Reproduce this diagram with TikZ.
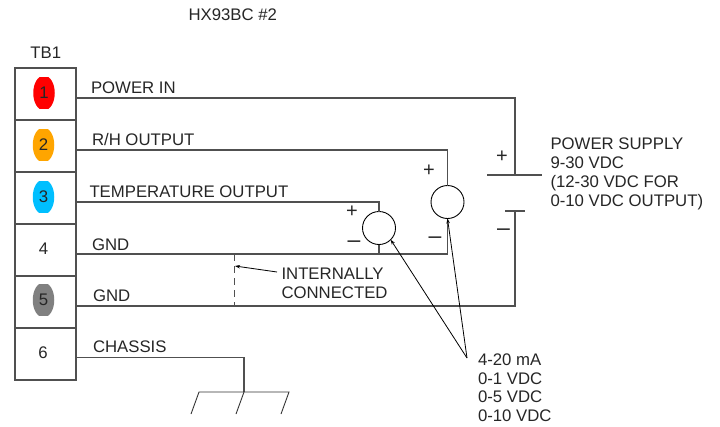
\documentclass[tikz,border=0pt]{standalone}
\usepackage{fontspec}
\setmainfont{Liberation Sans}
\usetikzlibrary{arrows.meta,shapes.geometric}
\definecolor{wirec}{HTML}{505050}
\definecolor{txtc}{HTML}{262626}
\definecolor{ovalorange}{RGB}{255,165,0}
\definecolor{ovalcyan}{RGB}{0,191,255}
\newcommand{\termoval}[3]{%
  \begin{scope}
    \clip (#2-11,#3-15.5) rectangle (#2+11,#3+15.5);
    \fill[#1] (#2,#3) ellipse [x radius=10.75,y radius=17.5];
  \end{scope}}
\tikzset{
  wire/.style={draw=wirec,line width=1.1pt,line join=miter},
  cellbox/.style={draw=wirec,line width=1.1pt,minimum width=61pt,minimum height=52pt,inner sep=0pt,outer sep=0pt},
  oval/.style={inner sep=0pt,outer sep=0pt,font=\fontsize{16.8}{18}\selectfont,text=txtc},
  lab/.style={anchor=base west,inner sep=0pt,outer sep=0pt,text=txtc,font=\fontsize{16.75}{18}\selectfont},
  sign/.style={inner sep=0pt,outer sep=0pt,text=txtc,font=\fontsize{20}{20}\selectfont},
  dashsign/.style={sign,font=\fontsize{23}{23}\selectfont},
  meter/.style={circle,draw=black,line width=0.9pt,minimum size=33pt,inner sep=0pt,outer sep=0pt},
  leader/.style={draw=black,line width=0.8pt,-{Stealth[length=5pt,width=3.5pt]}},
}
\begin{document}
\begin{tikzpicture}[x=1pt,y=-1pt]
\useasboundingbox (0,0) rectangle (720,426);
% terminal block
\node[cellbox] (c1) at (45.5,94) {};
\node[cellbox] (c2) at (45.5,146) {};
\node[cellbox] (c3) at (45.5,198) {};
\node[cellbox] (c4) at (45.5,250) {};
\node[cellbox] (c5) at (45.5,302) {};
\node[cellbox] (c6) at (45.5,354) {};
\termoval{red}{44}{93}
\termoval{ovalorange}{43.5}{145}
\termoval{ovalcyan}{43.5}{197}
\termoval{gray}{43.5}{300}
\node[oval] (n1) at (44,93) {1};
\node[oval] (n2) at (43.5,145) {2};
\node[oval] (n3) at (43.5,197) {3};
\node[oval] (n4) at (43.5,248.5) {4};
\node[oval] (n5) at (43.5,300) {5};
\node[oval] (n6) at (43,352.5) {6};
% meters
\node[meter] (mA) at (379,228) {};
\node[meter] (mB) at (447.5,202) {};
% coordinates
\coordinate (w1) at (76,98);
\coordinate (w2) at (76,150);
\coordinate (w3) at (76,202);
\coordinate (w4) at (76,254);
\coordinate (w5) at (76,306);
\coordinate (w6) at (76,357.5);
\coordinate (batP) at (515,175);
\coordinate (batN) at (515,211);
\coordinate (dashT) at (234,254);
\coordinate (dashB) at (234,306);
\coordinate (gnd) at (244,392);
\coordinate (fork) at (467,358);
% wires
\draw[wire] (w1) -| (batP);
\draw[wire] (487,175) -- (542,175);
\draw[wire] (505,211) -- (525,211);
\draw[wire] (w5) -| (batN);
\draw[wire] (w2) -| (mB.north);
\draw[wire] (w3) -| (mA.north);
\draw[wire] (w4) -| (mB.south);
\draw[wire] (mA.south) -- (mA.south |- w4);
\draw[wire,line width=0.9pt,dash pattern=on 7pt off 5pt] (dashT) -- (dashB);
\draw[wire] (w6) -| (gnd);
\draw[wire,line width=0.9pt,draw=black!80] (191,414) -- (199,392) -- (289,392) -- (281,414);
\draw[wire,line width=0.9pt,draw=black!80] (gnd) -- (236,414);
% leaders
\coordinate (iconn) at (277,272);
\draw[leader] (iconn) -- (235,266);
\draw[leader] (fork) -- (mA.south east);
\draw[leader] (fork) -- (mB.south);
% labels
\node[lab] (t0) at (188.5,20) {HX93BC \#2};
\node[lab] (t1) at (30.5,58) {TB1};
\node[lab] (l1) at (91,93) {POWER IN};
\node[lab] (l2) at (92,145) {R/H OUTPUT};
\node[lab] (l3) at (89.5,197.5) {TEMPERATURE OUTPUT};
\node[lab] (l4) at (92,250) {GND};
\node[lab] (l5) at (93,301) {GND};
\node[lab] (l6) at (93,352) {CHASSIS};
\node[lab] (l7) at (281.5,279) {INTERNALLY};
\node[lab] (l8) at (281.5,298) {CONNECTED};
\node[lab] (p1) at (550.5,149) {POWER SUPPLY};
\node[lab] (p2) at (550.5,168) {9-30 VDC};
\node[lab] (p3) at (550.5,187) {(12-30 VDC FOR};
\node[lab] (p4) at (550.5,206) {0-10 VDC OUTPUT)};
\node[lab] (o1) at (478,365) {4-20 mA};
\node[lab] (o2) at (478,384) {0-1 VDC};
\node[lab] (o3) at (478,402) {0-5 VDC};
\node[lab] (o4) at (478,421) {0-10 VDC};
% polarity
\node[sign] (s1) at (502,157) {+};
\node[sign] (s2) at (429,170.5) {+};
\node[sign] (s3) at (352,211.5) {+};
\node[dashsign] (s4) at (503.5,232) {–};
\node[dashsign] (s5) at (435,240) {–};
\node[dashsign] (s6) at (354,244.5) {–};
\end{tikzpicture}
\end{document}
